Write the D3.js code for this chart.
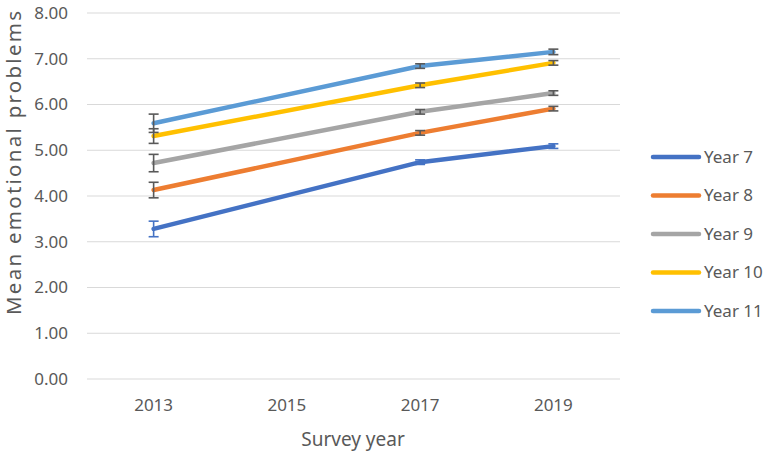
<!DOCTYPE html>
<html>
<head>
<meta charset="utf-8">
<script src="https://cdn.jsdelivr.net/npm/d3@7"></script>
<style>
  body { margin: 0; background: #fff; }
  text { font-family: "Noto Sans", sans-serif; fill: #595959; }
</style>
</head>
<body>
<div id="chart"></div>
<script>
// survey years on the x axis (2015 has no data, lines run straight through)
const years = ['2013', '2015', '2017', '2019'];
const seriesNames = ['Year 7', 'Year 8', 'Year 9', 'Year 10', 'Year 11'];
const seriesColors = ['#4472C4', '#ED7D31', '#A5A5A5', '#FFC000', '#5B9BD5'];
const errColors = ['#4472C4', '#595959', '#595959', '#595959', '#595959'];

// means per survey year
const year7 = [3.28, null, 4.74, 5.09];
const year8 = [4.13, null, 5.38, 5.91];
const year9 = [4.72, null, 5.84, 6.25];
const year10 = [5.31, null, 6.42, 6.91];
const year11 = [5.59, null, 6.84, 7.15];

// error bar half-widths
const err7 = [0.17, null, 0.05, 0.05];
const err8 = [0.17, null, 0.05, 0.05];
const err9 = [0.19, null, 0.05, 0.05];
const err10 = [0.16, null, 0.05, 0.05];
const err11 = [0.2, null, 0.05, 0.06];

const yTicks = [0, 1, 2, 3, 4, 5, 6, 7, 8];

const values = [year7, year8, year9, year10, year11];
const errors = [err7, err8, err9, err10, err11];

const width = 768, height = 453;
const margin = { left: 87, right: 148, top: 13, bottom: 74 };

const svg = d3.select('#chart').append('svg')
  .attr('width', width)
  .attr('height', height);

const x = d3.scaleBand()
  .domain(years)
  .range([margin.left, width - margin.right]);

const y = d3.scaleLinear()
  .domain([0, 8])
  .range([height - margin.bottom, margin.top]);

// gridlines
svg.append('g')
  .selectAll('line')
  .data(yTicks)
  .enter().append('line')
  .attr('x1', margin.left)
  .attr('x2', width - margin.right)
  .attr('y1', d => y(d))
  .attr('y2', d => y(d))
  .attr('stroke', '#d9d9d9')
  .attr('stroke-width', 1.2);

// y tick labels
svg.append('g')
  .selectAll('text')
  .data(yTicks)
  .enter().append('text')
  .attr('x', 68)
  .attr('y', d => y(d))
  .attr('dy', '0.35em')
  .attr('text-anchor', 'end')
  .attr('font-size', '17px')
  .text(d => d3.format('.2f')(d));

// x tick labels
svg.append('g')
  .selectAll('text')
  .data(years)
  .enter().append('text')
  .attr('x', d => x(d) + x.bandwidth() / 2)
  .attr('y', 411)
  .attr('text-anchor', 'middle')
  .attr('font-size', '17px')
  .text(d => d);

// axis titles
svg.append('text')
  .attr('x', 353)
  .attr('y', 446)
  .attr('text-anchor', 'middle')
  .attr('font-size', '19px')
  .text('Survey year');

svg.append('text')
  .attr('transform', 'translate(21,163) rotate(-90)')
  .attr('text-anchor', 'middle')
  .attr('font-size', '20.5px')
  .attr('textLength', 304)
  .attr('lengthAdjust', 'spacing')
  .text('Mean emotional problems');

const cx = d => x(d) + x.bandwidth() / 2;

const line = d3.line()
  .x(d => cx(d.year))
  .y(d => y(d.v));

values.forEach((vals, i) => {
  const pts = years.map((yr, j) => ({ year: yr, v: vals[j], e: errors[i][j] }))
    .filter(d => d.v != null);

  const g = svg.append('g');

  g.append('path')
    .datum(pts)
    .attr('d', line)
    .attr('fill', 'none')
    .attr('stroke', seriesColors[i])
    .attr('stroke-width', 4.5)
    .attr('stroke-linejoin', 'round')
    .attr('stroke-linecap', 'round');

  // error bars
  const eb = g.selectAll('g.err')
    .data(pts)
    .enter().append('g')
    .attr('stroke', errColors[i])
    .attr('stroke-width', 1.6);
  eb.append('line')
    .attr('x1', d => cx(d.year)).attr('x2', d => cx(d.year))
    .attr('y1', d => y(d.v - d.e)).attr('y2', d => y(d.v + d.e));
  eb.append('line')
    .attr('x1', d => cx(d.year) - 5).attr('x2', d => cx(d.year) + 5)
    .attr('y1', d => y(d.v + d.e)).attr('y2', d => y(d.v + d.e));
  eb.append('line')
    .attr('x1', d => cx(d.year) - 5).attr('x2', d => cx(d.year) + 5)
    .attr('y1', d => y(d.v - d.e)).attr('y2', d => y(d.v - d.e));
});

// legend
const legend = svg.append('g')
  .selectAll('g')
  .data(seriesNames)
  .enter().append('g')
  .attr('transform', (d, i) => `translate(653,${157 + i * 38.5})`);

legend.append('line')
  .attr('x1', 0).attr('x2', 46)
  .attr('stroke', (d, i) => seriesColors[i])
  .attr('stroke-width', 4.5)
  .attr('stroke-linecap', 'round');

legend.append('text')
  .attr('x', 51)
  .attr('dy', '0.35em')
  .attr('font-size', '17px')
  .text(d => d);
</script>
</body>
</html>
